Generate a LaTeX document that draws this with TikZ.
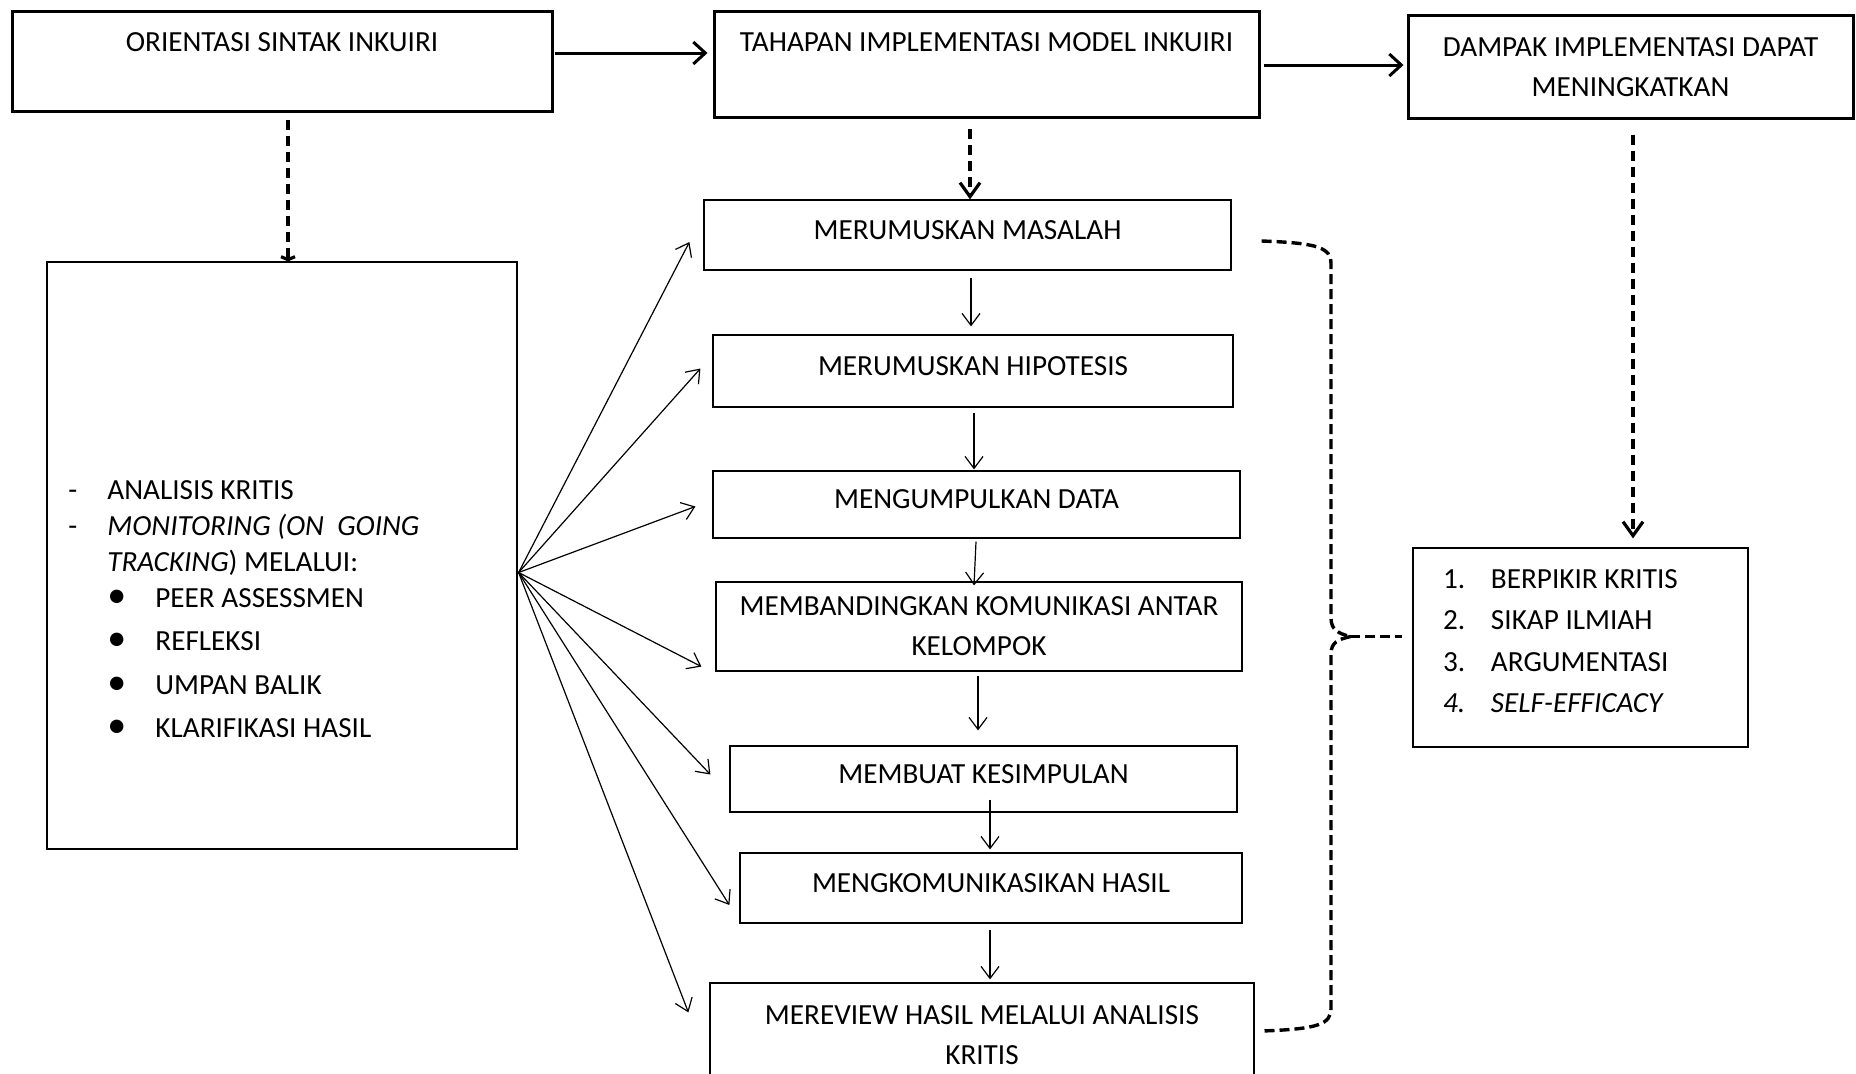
\documentclass[tikz,border=0pt]{standalone}
\usepackage{fontspec}
\usepackage{graphicx}
\setmainfont{Carlito}
\usetikzlibrary{arrows.meta,calc}
\begin{document}
\begin{tikzpicture}[x=0.5pt,y=-0.5pt,
  every node/.style={font=\fontsize{14.6}{18.3}\selectfont},
  topbox/.style={draw, line width=1.5pt, inner sep=0pt},
  stepbox/.style={draw, line width=0.6pt, inner sep=0pt, align=center},
  onestep/.style={stepbox, text height=10pt, text depth=6pt},
  twostep/.style={stepbox, font=\fontsize{14.6}{20}\selectfont},
  thinbox/.style={draw, line width=0.6pt, inner sep=0pt},
  thickarr/.style={line width=1.5pt, -{Straight Barb[length=6pt,width=11pt]}},
  thinarr/.style={line width=0.6pt, -{Straight Barb[length=6pt,width=9pt]}},
  dasharr/.style={line width=1.6pt, dash pattern=on 5pt off 3pt, -{Straight Barb[length=7pt,width=10pt]}},
  smalldash/.style={line width=1.6pt, dash pattern=on 5pt off 3pt, -{Straight Barb[length=1.5pt,width=7pt]}},
  bracestyle/.style={line width=1.7pt, dash pattern=on 5pt off 2.5pt},
]
\useasboundingbox (0,0) rectangle (1856,1073);
\clip (0,0) rectangle (1856,1073);
\fill[white] (0,0) rectangle (1856,1073);

% top row
\node[topbox, minimum width=270pt, minimum height=50pt,
  label={[anchor=base, yshift=-21pt]north:ORIENTASI SINTAK INKUIRI}] (o) at (282,61) {};
\node[topbox, minimum width=272.5pt, minimum height=53pt,
  label={[anchor=base, yshift=-21pt]north:TAHAPAN IMPLEMENTASI MODEL INKUIRI}] (t) at (986.5,64) {};
\node[topbox, minimum width=222.5pt, minimum height=51.5pt,
  label={[anchor=base, yshift=-21.5pt]north:{\parbox[t]{222pt}{\centering\fontsize{14.6}{20}\selectfont DAMPAK IMPLEMENTASI DAPAT\\MENINGKATKAN}}}] (d) at (1630.5,66.5) {};

% left box
\node[thinbox, minimum width=235pt, minimum height=293.5pt] (L) at (282,555.5) {};
\node[anchor=base west, inner sep=0pt] (Ltxt) at (68,499) {\parbox[t]{225pt}{\fontsize{14.6}{18}\selectfont
\makebox[19.5pt][l]{-}ANALISIS KRITIS\\
\makebox[19.5pt][l]{-}\textit{MONITORING (ON\ \ GOING}\\
\hspace*{19.5pt}\textit{TRACKING}) MELALUI:\\
\hspace*{19.5pt}\makebox[24pt][l]{\scalebox{1.3}{\textbullet}}PEER ASSESSMEN\\[3.75pt]
\hspace*{19.5pt}\makebox[24pt][l]{\scalebox{1.3}{\textbullet}}REFLEKSI\\[3.75pt]
\hspace*{19.5pt}\makebox[24pt][l]{\scalebox{1.3}{\textbullet}}UMPAN BALIK\\[3.75pt]
\hspace*{19.5pt}\makebox[24pt][l]{\scalebox{1.3}{\textbullet}}KLARIFIKASI HASIL}};

% steps
\node[onestep, minimum width=263.5pt, minimum height=35pt] (m1) at (967.5,235) {MERUMUSKAN MASALAH};
\node[onestep, minimum width=260pt, minimum height=36pt] (m2) at (973,371) {MERUMUSKAN HIPOTESIS};
\node[onestep, minimum width=263.5pt, minimum height=33.5pt] (m3) at (976.5,504.5) {MENGUMPULKAN DATA};
\node[twostep, minimum width=263pt, minimum height=44.5pt] (m4) at (979,626.5) {MEMBANDINGKAN KOMUNIKASI ANTAR\\KELOMPOK};
\node[onestep, minimum width=253.5pt, minimum height=33pt] (m5) at (983.5,779) {MEMBUAT KESIMPULAN};
\node[onestep, minimum width=251pt, minimum height=35pt] (m6) at (991,888) {MENGKOMUNIKASIKAN HASIL};
\node[twostep, minimum width=272pt, minimum height=52pt] (m7) at (982,1035) {MEREVIEW HASIL MELALUI ANALISIS\\KRITIS};

% right box
\node[thinbox, minimum width=167.5pt, minimum height=99.5pt] (R) at (1580.5,647.5) {\parbox[t]{137.5pt}{\fontsize{14.6}{20.7}\selectfont
\makebox[24pt][l]{1.}BERPIKIR KRITIS\\
\makebox[24pt][l]{2.}SIKAP ILMIAH\\
\makebox[24pt][l]{3.}ARGUMENTASI\\
\makebox[24pt][l]{\textit{4.}}\textit{SELF-EFFICACY}\par\vspace*{6.3pt}}};

% top solid arrows
\draw[thickarr] ($(o.east)+(1,-8)$) -- ($(o.east -| t.west)+(-5,-8)$);
\draw[thickarr] ($(t.east)+(3,1)$) -- ($(t.east -| d.west)+(-3,1)$);

% dashed arrows down
\draw[smalldash] ($(o.south)+(6,7)$) -- ($(o.south |- L.north)+(6,0)$);
\draw[dasharr] ($(t.south)+(-16.5,10)$) -- ($(t.south |- m1.north)+(-16.5,0)$);
\draw[dasharr] ($(d.south)+(2.5,15)$) -- ($(d.south |- R.north)+(2.5,-9)$);

% vertical step arrows
\draw[thinarr] ($(m1.south)+(3.5,7)$) -- ($(m1.south |- m2.north)+(3.5,-8)$);
\draw[thinarr] ($(m2.south)+(1,5)$) -- ($(m2.south |- m3.north)+(1,-1)$);
\draw[thinarr] ($(m3.south)+(-0.5,3)$) -- ($(m3.south |- m4.north)+(-2.5,4)$);
\draw[thinarr] ($(m4.south)+(-1,4)$) -- ($(m4.south |- m5.north)+(-1,-15)$);
\draw[thinarr] ($(m5.south)+(6.5,-13)$) -- ($(m5.south |- m6.north)+(6.5,-3)$);
\draw[thinarr] ($(m6.south)+(-1,6)$) -- ($(m6.south |- m7.north)+(-1,-3)$);

% fan arrows
\coordinate (fan) at ($(L.east)+(1,17)$);
\draw[thinarr] (fan) -- ($(m1.west)+(-14,7)$);
\draw[thinarr] (fan) -- ($(m2.west)+(-12,-2.5)$);
\draw[thinarr] (fan) -- ($(m3.west)+(-17,2)$);
\draw[thinarr] (fan) -- ($(m4.south west)+(-14,-5)$);
\draw[thinarr] (fan) -- ($(m5.west)+(-19,-4.5)$);
\draw[thinarr] (fan) -- ($(m6.west)+(-10,17)$);
\draw[thinarr] (fan) -- ($(m7.north west)+(-21,30)$);

% brace
\coordinate (bs) at ($(m1.east)+(30,6)$);
\coordinate (be) at ($(m7.east)+(7,-4)$);
\coordinate (bp) at ($(R.west)+(-62,-11)$);
\coordinate (bc) at ($(R.west)+(-10,-11)$);
\draw[bracestyle] (bs) .. controls +(58,2) and +(0,-16) .. (1331,264) -- (1331,618)
   .. controls +(0,12) and +(-12,-3) .. (bp);
\draw[bracestyle] (bp) .. controls +(-12,3) and +(0,-12) .. (1331,654) -- (1331,1008)
   .. controls +(0,16) and +(58,-2) .. (be);
\draw[bracestyle] (bp) -- (bc);
\end{tikzpicture}
\end{document}
